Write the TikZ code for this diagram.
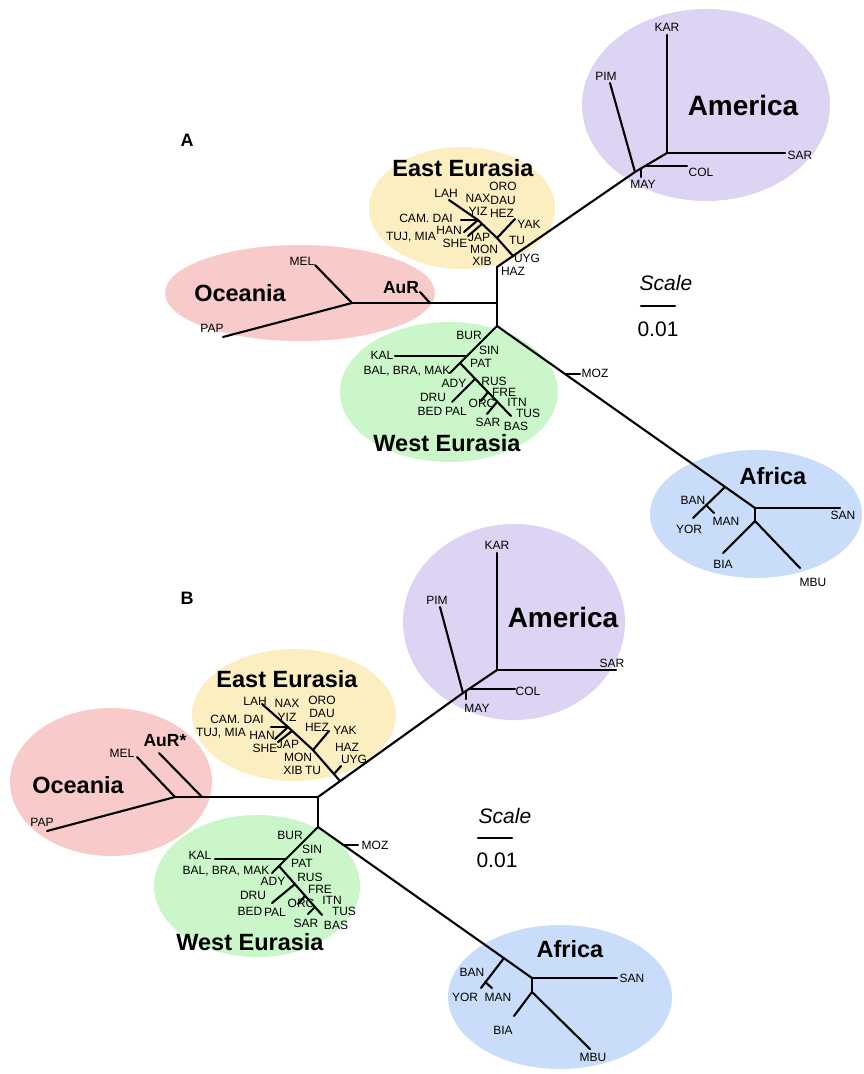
\documentclass[tikz,border=0pt]{standalone}
\usepackage{fontspec}
\setmainfont{Liberation Sans}
\usepackage{tikz}

\definecolor{oceC}{RGB}{249,202,202}
\definecolor{eeC}{RGB}{251,238,193}
\definecolor{weC}{RGB}{202,246,202}
\definecolor{amC}{RGB}{221,212,244}
\definecolor{afC}{RGB}{201,221,250}

\tikzset{
  br/.style={line width=2.1pt, line cap=round},
  lab/.style={inner sep=0pt, font=\fontsize{12}{12}\selectfont},
  grp/.style={inner sep=0pt, font=\fontsize{23.5}{24}\selectfont\bfseries},
  amlab/.style={inner sep=0pt, font=\fontsize{28}{28}\selectfont\bfseries},
  aurlab/.style={inner sep=0pt, font=\fontsize{17.5}{18}\selectfont\bfseries},
  panel/.style={inner sep=0pt, font=\fontsize{18}{18}\selectfont\bfseries},
  scl/.style={inner sep=0pt, font=\fontsize{21}{21}\selectfont},
}

\begin{document}
\begin{tikzpicture}[x=1pt, y=-1pt]
\useasboundingbox (0,0) rectangle (864,1074);

% panel A
\fill[oceC] (300,293) ellipse [x radius=135pt, y radius=48pt];
\fill[eeC] (462,208) ellipse [x radius=93pt, y radius=61pt];
\fill[weC] (449,392) ellipse [x radius=109pt, y radius=70pt];
\fill[amC] (706,105) ellipse [x radius=124pt, y radius=96pt];
\fill[afC] (756,514) ellipse [x radius=106pt, y radius=64pt];

\foreach \n/\x/\y in {aOce/352/303, aRoot/497/303, aUp/497/267, aDown/497/326,
    aAuRj/430/303, aAuRt/420/292, aMELt/315/265, aPAPt/223/337,
    aMAY/635/172, aKS/667/153, aKARt/667/35, aSARt/785/153, aPIMt/610/83,
    aCOLj/645/166, aCOLt/687/166, aMAYj/641/169, aMAYt/641/177,
    aEEj/513/256, aEE1/497/238, aEE2/478/220, aLAHt/449/200, aYAKt/515/219,
    aCAMt/461/220, aSHEt/464/232, aHANj/482/224, aHANt/468/236,
    aBALt/450/373, aKALj/467/356, aKALt/395/356, aWEs/460/363, aTUSt/511/416,
    aADYj/475/379, aDRUt/452/402, aORCj/488/392, aORCt/481/401,
    aSARj/497/402, aSARt2/487/414,
    aAfr/755/508, aSANt/840/508, aAfr2/755/521, aBIAt/723/553, aMBUt/800/568,
    aBANj/725/487, aYORt/693/518, aMANj/706/505, aMANt/714/513,
    aMOZj/565/374, aMOZt/580/374, aSc1/641/306, aSc2/675/306}
  \coordinate (\n) at (\x,\y);

\foreach \u/\v in {aOce/aRoot, aRoot/aUp, aRoot/aDown, aUp/aMAY, aAuRj/aAuRt,
    aOce/aMELt, aOce/aPAPt, aMAY/aKS, aKS/aKARt, aKS/aSARt, aMAY/aPIMt,
    aCOLj/aCOLt, aMAYj/aMAYt, aEEj/aEE1, aEE1/aEE2, aEE2/aLAHt, aEE1/aYAKt,
    aEE2/aCAMt, aEE2/aSHEt, aHANj/aHANt, aDown/aBALt, aKALj/aKALt,
    aWEs/aTUSt, aADYj/aDRUt, aORCj/aORCt, aSARj/aSARt2,
    aDown/aAfr, aAfr/aSANt, aAfr/aAfr2, aAfr2/aBIAt, aAfr2/aMBUt,
    aBANj/aYORt, aMANj/aMANt, aMOZj/aMOZt, aSc1/aSc2}
  \draw[br] (\u) -- (\v);

\foreach \n/\x/\y in {KAR/667/27, PIM/606/76, SAR/800/155, COL/701/172, MAY/643/184,
    MEL/302/261, PAP/212/328, LAH/446/193, NAX/478/198, ORO/503/186, DAU/503/200,
    YIZ/478/211, HEZ/502/213, YAK/529/224, HAN/449/230, JAP/479/237, TU/517/240,
    SHE/455/243, MON/484/249, XIB/482/261, UYG/527/258, HAZ/513/271,
    BUR/469/335, SIN/489/350, KAL/382/355, PAT/481/363, ADY/454/383, RUS/494/381,
    DRU/433/397, FRE/504/392, BED/430/411, PAL/456/411, ORC/482/403, ITN/517/402,
    TUS/528/413, BAS/516/426, MOZ/595/373,
    BAN/693/500, YOR/689/529, MAN/726/521, SAN/843/515, BIA/723/564, MBU/813/582}
  \node[lab] (a\n) at (\x,\y) {\n};
\node[lab] (aSARw) at (488,422) {SAR};
\node[lab] (aCAM) at (426,218) {CAM. DAI};
\node[lab] (aTUJ) at (411,237) {TUJ, MIA};
\node[lab] (aBAL) at (407,371) {BAL, BRA, MAK};

\node[amlab] (aAmerica) at (743,105) {America};
\node[grp] (aOceania) at (240,293) {Oceania};
\node[aurlab] (aAuR) at (401,288) {AuR};
\node[grp] (aEast) at (463,168) {East Eurasia};
\node[grp] (aWest) at (447,443) {West Eurasia};
\node[grp] (aAfrica) at (773,476) {Africa};
\node[panel] (pA) at (187,140) {A};
\node[scl] (aScale) at (666,283) {\itshape Scale};
\node[scl] (aUnit) at (658,329) {0.01};

% panel B
\fill[oceC] (111,782) ellipse [x radius=101pt, y radius=74pt];
\fill[eeC] (294,715) ellipse [x radius=102pt, y radius=66pt];
\fill[weC] (257,886) ellipse [x radius=103pt, y radius=71pt];
\fill[amC] (514,622) ellipse [x radius=111pt, y radius=98pt];
\fill[afC] (560,997) ellipse [x radius=112pt, y radius=72pt];

\foreach \n/\x/\y in {bOce/175/797, bRoot/318/797, bDown/318/827,
    bAuRj/202/797, bAuRt/159/753, bMELt/137/757, bPAPt/47/831,
    bMAY/463/693, bKS/497/670, bKARt/497/553, bSARt/616/670, bPIMt/440/607,
    bCOLj/469/689, bCOLt/515/689, bMAYj/466/691, bMAYt/466/699,
    bEEj/340/781, bEE1/313/750, bEE2/288/727, bLAHt/262/704, bYAKt/329/731,
    bCAMt/271/727, bSHEt/275/739, bHANj/292/731, bHANt/278/742,
    bUYGj/334/774, bUYGt/341/766,
    bBALt/272/873, bKALj/286/859, bKALt/215/859, bWEs/279/866, bTUSt/322/915,
    bADYj/295/884, bDRUt/272/903, bORCj/305/896, bORCt/298/904,
    bSARj/315/907, bSARt2/308/914,
    bAfr/532/978, bSANt/617/978, bAfr2/532/992, bBIAt/514/1016, bMBUt/590/1049,
    bBANj/504/958, bYORt/481/988, bMANj/485/982, bMANt/492/988,
    bMOZj/343/845, bMOZt/358/845, bSc1/478/838, bSc2/512/838}
  \coordinate (\n) at (\x,\y);

\foreach \u/\v in {bOce/bRoot, bRoot/bDown, bRoot/bMAY, bAuRj/bAuRt,
    bOce/bMELt, bOce/bPAPt, bMAY/bKS, bKS/bKARt, bKS/bSARt, bMAY/bPIMt,
    bCOLj/bCOLt, bMAYj/bMAYt, bEEj/bEE1, bEE1/bEE2, bEE2/bLAHt, bEE1/bYAKt,
    bEE2/bCAMt, bEE2/bSHEt, bHANj/bHANt, bUYGj/bUYGt, bDown/bBALt, bKALj/bKALt,
    bWEs/bTUSt, bADYj/bDRUt, bORCj/bORCt, bSARj/bSARt2,
    bDown/bAfr, bAfr/bSANt, bAfr/bAfr2, bAfr2/bBIAt, bAfr2/bMBUt,
    bBANj/bYORt, bMANj/bMANt, bMOZj/bMOZt, bSc1/bSc2}
  \draw[br] (\u) -- (\v);

\foreach \n/\x/\y in {KAR/497/545, PIM/437/600, SAR/612/663, COL/528/691, MAY/477/708,
    MEL/122/753, PAP/42/822, LAH/255/701, NAX/287/703, ORO/322/700, DAU/322/713,
    YIZ/287/717, HEZ/317/727, YAK/345/730, HAN/262/735, SHE/265/748, JAP/288/744,
    HAZ/347/747, MON/298/757, UYG/354/759, XIB/293/770, TU/313/770,
    BUR/290/835, SIN/312/849, KAL/200/855, PAT/302/863, ADY/273/881, RUS/310/877,
    DRU/253/895, FRE/320/889, ITN/332/900, BED/250/911, PAL/275/912, ORC/301/903,
    TUS/344/911, BAS/336/925, MOZ/375/845,
    BAN/472/972, YOR/465/997, MAN/498/997, SAN/632/978, BIA/503/1030, MBU/593/1057}
  \node[lab] (b\n) at (\x,\y) {\n};
\node[lab] (bSARw) at (306,923) {SAR};
\node[lab] (bCAM) at (237,719) {CAM. DAI};
\node[lab] (bTUJ) at (221,733) {TUJ, MIA};
\node[lab] (bBAL) at (226,871) {BAL, BRA, MAK};

\node[amlab] (bAmerica) at (563,617) {America};
\node[grp] (bOceania) at (78,785) {Oceania};
\node[aurlab] (bAuR) at (165,741) {AuR*};
\node[grp] (bEast) at (287,679) {East Eurasia};
\node[grp] (bWest) at (250,942) {West Eurasia};
\node[grp] (bAfrica) at (570,949) {Africa};
\node[panel] (pB) at (187,598) {B};
\node[scl] (bScale) at (505,816) {\itshape Scale};
\node[scl] (bUnit) at (497,860) {0.01};

\end{tikzpicture}
\end{document}
